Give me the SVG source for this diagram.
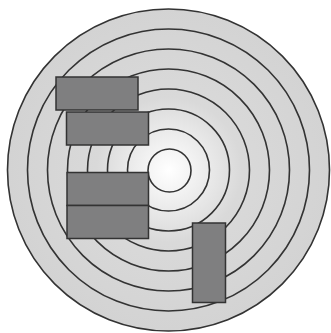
<svg xmlns="http://www.w3.org/2000/svg" width="331" height="333" viewBox="0 0 331 333">
<style>
.ring{fill:none;stroke:#333;stroke-width:1.6}
.blk{fill:#7f7f80;stroke:#333;stroke-width:1.5}
</style>
<defs>
<radialGradient id="g" cx="169" cy="170" r="161" gradientUnits="userSpaceOnUse">
<stop offset="0" stop-color="#ffffff"/>
<stop offset="0.45" stop-color="#d9d9d9"/>
<stop offset="1" stop-color="#d3d3d3"/>
</radialGradient>
</defs>
<rect width="331" height="333" fill="#fff"/>
<g id="disc">
<circle cx="168.5" cy="170" r="161" style="fill:url(#g);stroke:#333;stroke-width:1.6"/>
<circle cx="168.5" cy="170" r="141" class="ring"/>
<circle cx="168.5" cy="170" r="121" class="ring"/>
<circle cx="168.5" cy="170" r="101" class="ring"/>
<circle cx="168.5" cy="170" r="81" class="ring"/>
<circle cx="168.5" cy="170" r="61" class="ring"/>
<circle cx="168.5" cy="170" r="41" class="ring"/>
<circle cx="169.5" cy="170.5" r="21.5" class="ring"/>
</g>
<g id="block1"><rect class="blk" x="56" y="77" width="82" height="33"/></g>
<g id="block2"><rect class="blk" x="66.5" y="112" width="82" height="33"/></g>
<g id="block3"><rect class="blk" x="67" y="172.5" width="81.5" height="33"/></g>
<g id="block4"><rect class="blk" x="67" y="205.5" width="81.5" height="33"/></g>
<g id="block5"><rect class="blk" x="192.5" y="223" width="33" height="79.5"/></g>
<g id="connectors"/>
</svg>
